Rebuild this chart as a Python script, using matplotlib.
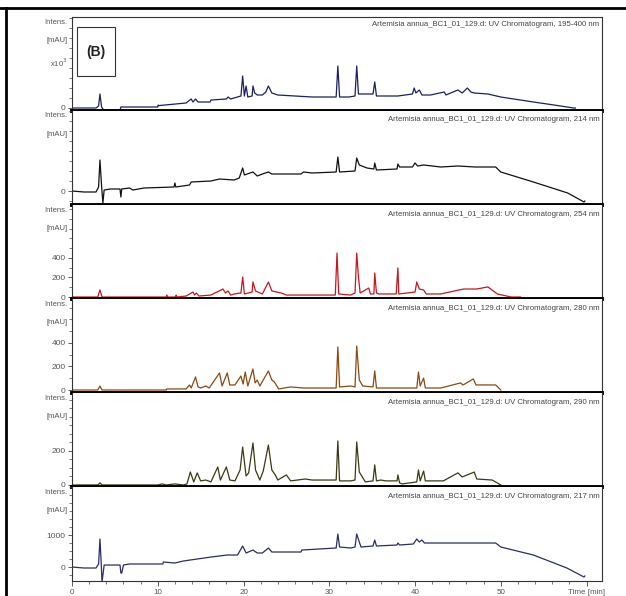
import matplotlib
matplotlib.use('Agg')
import matplotlib.pyplot as plt
from matplotlib.ticker import MultipleLocator, FixedLocator, NullLocator
from matplotlib.patches import Rectangle
from matplotlib.lines import Line2D

plt.rcParams['font.family'] = ['Liberation Sans Narrow', 'Liberation Sans', 'DejaVu Sans']

########################################
# Data (time [min], intensity)
########################################

SAMPLE = 'Artemisia annua_BC1_01_129.d: UV Chromatogram, '
wavelengths = ['195-400 nm', '214 nm', '254 nm', '280 nm', '290 nm', '217 nm']

# 195-400 nm, intensity in 10^3 mAU
trace_195_400 = [(0, 0), (2.8, 0), (3.1, 0.1), (3.26, 0.7), (3.45, 0.05), (3.7, -0.1), (5.6, -0.1),
                 (5.7, 0.05), (10.0, 0.05), (10.05, 0.15), (10.1, 0.12), (13.3, 0.25), (13.9, 0.45),
                 (14.1, 0.3), (14.4, 0.45), (14.7, 0.3), (16.1, 0.3), (16.2, 0.4), (18.0, 0.45),
                 (18.2, 0.55), (18.5, 0.45), (18.9, 0.5), (19.7, 0.6), (19.9, 1.6), (20.1, 0.6),
                 (20.3, 1.1), (20.5, 0.55), (21.0, 0.6), (21.1, 1.1), (21.3, 0.75), (21.6, 0.65),
                 (22.2, 0.65), (22.6, 0.8), (22.9, 1.1), (23.3, 0.75), (24.0, 0.65), (26.0, 0.6),
                 (28.0, 0.55), (30.8, 0.55), (31.0, 2.1), (31.2, 0.55), (32.3, 0.55), (33.0, 0.6),
                 (33.2, 2.1), (33.4, 0.7), (35.1, 0.7), (35.3, 1.3), (35.5, 0.6), (38.0, 0.6),
                 (39.7, 0.7), (39.9, 1.0), (40.1, 0.75), (40.5, 0.9), (40.8, 0.65), (41.8, 0.65),
                 (43.4, 0.8), (43.6, 0.65), (45.0, 0.9), (45.5, 0.75), (46.1, 1.0), (46.5, 0.8),
                 (46.9, 0.75), (48.5, 0.7), (50.0, 0.55), (53.8, 0.3), (56.2, 0.15), (58.5, 0.0),
                 (58.7, 0.0)]

trace_214 = [(0, 0), (1.4, -20), (2.8, -20), (3.1, 80), (3.26, 620), (3.45, 100), (3.6, -240),
             (3.75, 20), (4.5, 40), (5.6, 40), (5.7, -120), (5.8, 40), (6.7, 60), (7.1, 20),
             (8.4, 60), (11.9, 80), (12.0, 160), (12.1, 80), (13.7, 120), (13.9, 180), (16.2, 200),
             (17.2, 240), (18.9, 220), (19.5, 260), (19.9, 460), (20.1, 320), (21.1, 380),
             (21.6, 300), (22.2, 340), (22.9, 380), (23.3, 340), (26.7, 340), (27.0, 380),
             (28.0, 360), (30.8, 380), (31.0, 680), (31.2, 380), (33.0, 400), (33.2, 660),
             (33.5, 520), (34.4, 460), (35.2, 440), (35.3, 560), (35.5, 420), (37.9, 440),
             (38.0, 540), (38.2, 480), (39.7, 480), (40.0, 560), (40.3, 500), (41.0, 520),
             (43.0, 480), (45.0, 500), (47.0, 480), (49.4, 480), (50.0, 380), (53.8, 180),
             (57.8, -40), (59.7, -220), (59.8, -200)]

trace_254 = [(0, 0), (3.0, 0), (3.26, 72), (3.5, 0), (11.0, 0), (11.05, 20), (11.1, 0), (12.1, 0),
             (12.15, 20), (12.2, 0), (13.3, 10), (14.1, 51), (14.3, 20), (14.5, 41), (14.8, 10),
             (16.2, 20), (17.6, 82), (17.9, 41), (18.2, 62), (18.5, 20), (18.9, 31), (19.7, 41),
             (19.9, 205), (20.1, 31), (21.0, 51), (21.1, 154), (21.4, 62), (22.2, 31), (22.9, 154),
             (23.3, 62), (24.4, 41), (25.0, 20), (30.7, 20), (30.9, 450), (31.1, 31), (32.5, 20),
             (33.0, 41), (33.2, 450), (33.4, 205), (33.6, 41), (34.6, 92), (34.8, 31), (35.2, 31),
             (35.3, 246), (35.5, 41), (35.8, 31), (37.8, 31), (38.0, 298), (38.1, 31), (40.0, 51),
             (40.2, 154), (40.5, 82), (41.0, 72), (41.3, 31), (43.0, 31), (44.6, 62), (45.7, 82),
             (47.2, 82), (48.5, 103), (49.6, 31), (51.2, 0), (52.3, 0)]

trace_280 = [(0, 0), (3.0, 0), (3.26, 34), (3.5, 0), (11.0, 0), (11.05, 9), (12.9, 9), (13.3, 9),
             (13.7, 43), (13.9, 17), (14.4, 111), (14.7, 26), (15.0, 17), (15.6, 34), (16.0, 17),
             (17.2, 145), (17.5, 34), (18.1, 145), (18.4, 43), (19.0, 43), (19.7, 119), (19.95, 51),
             (20.2, 153), (20.5, 34), (21.1, 179), (21.35, 60), (21.6, 85), (21.9, 34), (22.9, 162),
             (23.3, 85), (23.6, 68), (24.1, 9), (25.5, 26), (27.0, 17), (30.8, 17), (31.0, 366),
             (31.2, 26), (32.5, 34), (33.0, 26), (33.2, 374), (33.5, 85), (33.9, 34), (35.1, 26),
             (35.3, 162), (35.5, 17), (36.2, 17), (40.2, 17), (40.4, 153), (40.6, 34), (41.0, 102),
             (41.2, 17), (43.0, 17), (45.3, 60), (45.6, 43), (46.8, 94), (47.1, 43), (49.4, 43),
             (50.0, 0)]

trace_290 = [(0, 0), (3.0, 0), (3.26, 12), (3.5, 0), (10.0, 0), (10.5, 6), (11.0, 0), (12.0, 6),
             (13.0, 0), (13.4, 6), (13.8, 76), (14.2, 18), (14.6, 71), (15.0, 24), (15.6, 29),
             (16.2, 18), (17.0, 106), (17.3, 29), (18.0, 106), (18.4, 29), (19.0, 24), (19.6, 88),
             (19.9, 223), (20.3, 53), (20.6, 71), (21.1, 247), (21.4, 88), (21.9, 29), (22.3, 82),
             (22.9, 235), (23.3, 88), (23.7, 59), (24.0, 29), (25.0, 59), (25.5, 24), (27.2, 35),
             (28.0, 29), (30.8, 29), (31.0, 259), (31.2, 24), (32.5, 24), (33.0, 29), (33.2, 253),
             (33.5, 76), (34.2, 18), (35.1, 24), (35.3, 118), (35.5, 24), (36.0, 29), (36.6, 24),
             (37.9, 24), (38.0, 59), (38.2, 12), (38.5, 6), (40.2, 18), (40.4, 88), (40.6, 24),
             (41.0, 82), (41.2, 24), (43.3, 24), (45.0, 71), (45.5, 47), (46.9, 76), (47.2, 35),
             (49.0, 29), (50.0, 0)]

trace_217 = [(0, 0), (1.4, -31), (2.8, -31), (3.1, 94), (3.26, 875), (3.4, 156), (3.5, -469),
             (3.75, 62), (5.6, 62), (5.7, -188), (5.8, -188), (6.0, 62), (6.7, 94), (10.6, 94),
             (10.65, 156), (12.0, 125), (13.0, 188), (14.6, 250), (16.2, 312), (18.1, 375),
             (19.3, 375), (19.9, 656), (20.3, 438), (21.1, 531), (21.6, 438), (22.2, 438),
             (22.9, 594), (23.3, 469), (26.7, 469), (26.8, 531), (30.8, 594), (31.0, 1031),
             (31.2, 625), (32.5, 594), (33.0, 625), (33.2, 1031), (33.5, 781), (33.7, 625),
             (35.1, 656), (35.3, 844), (35.5, 656), (37.9, 688), (38.0, 750), (38.2, 688),
             (39.8, 719), (40.2, 875), (40.5, 781), (40.8, 844), (41.1, 750), (49.4, 750),
             (50.0, 625), (53.8, 375), (57.7, -31), (59.7, -312), (59.8, -281)]

traces = [trace_195_400, trace_214, trace_254, trace_280, trace_290, trace_217]
colors = ['#1b2060', '#111111', '#c8161d', '#8a4a12', '#3b3a12', '#2b2d66']
ylims = [(-0.15, 4.55), (-280, 1600), (-20.5, 943), (-25.5, 774), (-12, 541), (-437, 2500)]
major_yticks = [[0], [0], [0, 200, 400], [0, 200, 400], [0, 200], [0, 1000]]
minor_steps = [0.5, 200, 100, 100, 50, 250]

x_ticks = [0, 10, 20, 30, 40, 50, 60]
x_labels = ['0', '10', '20', '30', '40', '50', 'Time [min]']

########################################
# Layout (pixels of a 626x596 picture)
########################################

W, H = 626, 596
LEFT, RIGHT = 72, 602
TOP, PANEL_H = 17, 94
GREY = '#555555'

fig = plt.figure(figsize=(W / 100, H / 100), dpi=100)

axes = []
for i, (trace, col) in enumerate(zip(traces, colors)):
    top = TOP + i * PANEL_H
    ax = fig.add_axes([LEFT / W, 1 - (top + PANEL_H) / H, (RIGHT - LEFT) / W, PANEL_H / H])
    t = [p[0] for p in trace]
    v = [p[1] for p in trace]
    ax.plot(t, v, color=col, lw=0.9)
    ax.set_xlim(0, 61.8)
    ax.set_ylim(*ylims[i])

    ax.yaxis.set_major_locator(FixedLocator(major_yticks[i]))
    ax.yaxis.set_minor_locator(MultipleLocator(minor_steps[i]))
    ax.tick_params(axis='y', which='major', length=3, width=0.6, colors='#444444',
                   labelsize=6, labelcolor=GREY, pad=1.5)
    ax.tick_params(axis='y', which='minor', length=2, width=0.5, colors='#444444')

    for side in ['left', 'right', 'top']:
        ax.spines[side].set_linewidth(0.8)
        ax.spines[side].set_color('#333333')
    if i > 0:
        ax.spines['top'].set_visible(False)

    if i < 5:
        ax.spines['bottom'].set_linewidth(2.8)
        ax.spines['bottom'].set_color('black')
        ax.xaxis.set_major_locator(NullLocator())
    else:
        ax.spines['bottom'].set_linewidth(0.8)
        ax.spines['bottom'].set_color('#333333')
        ax.set_xticks(x_ticks)
        ax.set_xticklabels(x_labels)
        ax.xaxis.set_minor_locator(MultipleLocator(2))
        ax.tick_params(axis='x', which='major', length=3.5, width=0.6, colors='#444444',
                       labelsize=5.8, labelcolor=GREY, pad=2)
        ax.tick_params(axis='x', which='minor', length=2, width=0.5, colors='#444444')

    # chromatogram title and intensity label
    title_y = 1 - 7 / PANEL_H if i == 0 else 1 - 9 / PANEL_H
    ax.text(0.995, title_y, SAMPLE + wavelengths[i], transform=ax.transAxes,
            ha='right', va='center', fontsize=5.6, color='#444444')
    ax.text(-0.008, 1 - 5 / PANEL_H, 'Intens.', transform=ax.transAxes,
            ha='right', va='center', fontsize=5.5, color=GREY)
    ax.text(-0.008, 1 - 24 / PANEL_H, '[mAU]', transform=ax.transAxes,
            ha='right', va='center', fontsize=5.5, color=GREY)
    if i == 0:
        ax.text(-0.008, 1 - 46 / PANEL_H, 'x10$^3$', transform=ax.transAxes,
                ha='right', va='center', fontsize=5.5, color=GREY)
    axes.append(ax)

# (B) label box
fig.patches.append(Rectangle((77 / W, 1 - 76 / H), 38 / W, 49 / H, transform=fig.transFigure,
                             fill=False, edgecolor='#333333', lw=0.8))
fig.text(96 / W, 1 - 52 / H, '(B)', ha='center', va='center', fontsize=10,
         fontweight='bold', color='#222222')

# outer border (top and left)
fig.add_artist(Line2D([0, 1], [1 - 8 / H, 1 - 8 / H], transform=fig.transFigure,
                      color='black', lw=2))
fig.add_artist(Line2D([6 / W, 6 / W], [1 - 8 / H, 0], transform=fig.transFigure,
                      color='black', lw=2))

fig.savefig('out.png', dpi=100)
